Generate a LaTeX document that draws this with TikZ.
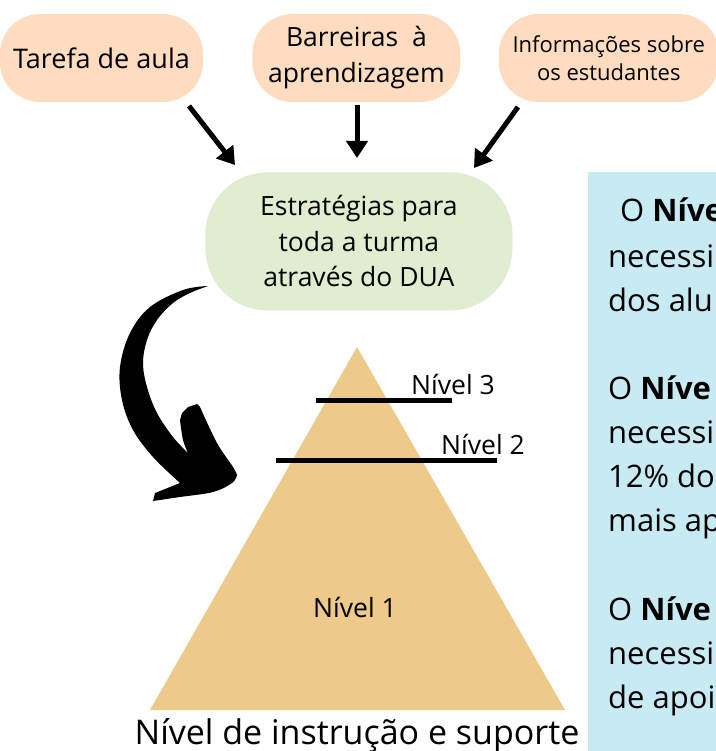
\documentclass[tikz,border=0pt]{standalone}
\usepackage{fontspec}
\setmainfont{Open Sans}
\usetikzlibrary{arrows.meta, positioning, calc}
\definecolor{pessego}{HTML}{FDDCBF}
\definecolor{verdeclaro}{HTML}{E0EDD0}
\definecolor{azulclaro}{HTML}{C8EAF2}
\definecolor{areia}{HTML}{EDCA8A}
\tikzset{
  dua/.style={
	x=1pt, y=-1pt, % one unit is one pixel of the page, y grows downwards
	every node/.style={inner sep=0pt, align=center},
	caixa/.style={fill=pessego, rounded corners=40pt, minimum height=88pt}, % the three sources
	estrategia/.style={fill=verdeclaro, rounded corners=62pt, minimum width=307pt, minimum height=138pt,
		font=\fontsize{26.5}{35.5}\selectfont},
	seta/.style={line width=5pt, -{Triangle[length=17pt, width=21pt]}}, % the straight arrows
	nivel/.style={line width=5pt}, % the lines across the pyramid
	rotulo/.style={font=\fontsize{26.5}{30}\selectfont},
	painel/.style={anchor=base west, align=left, font=\fontsize{31}{45}\selectfont},
  }
}
\begin{document}
\begin{tikzpicture}[dua]
\useasboundingbox (0,0) rectangle (715,751);

\node[caixa, minimum width=203pt, font=\fontsize{27}{36}\selectfont] (tarefa) at (101.5,58) {Tarefa de aula};
\node[caixa, minimum width=208pt, font=\fontsize{26.5}{36}\selectfont, right=49pt of tarefa] (barreiras) {Barreiras \ à\\aprendizagem};
\node[caixa, minimum width=220pt, font=\fontsize{22}{28}\selectfont, right=38pt of barreiras] (informacoes) {Informações sobre\\os estudantes};
\node[estrategia, below=70pt of barreiras, xshift=2.5pt] (estrategias) {Estratégias para\\toda a turma\\através do DUA};

\coordinate (s1) at (189,106);
\coordinate (e1) at (235,165);
\coordinate (s2) at (357,105);
\coordinate (e2) at (357,158);
\coordinate (s3) at (518,107);
\coordinate (e3) at (474,168);
\draw[seta] (s1) -- (e1);
\draw[seta] (s2) -- (e2);
\draw[seta] (s3) -- (e3);

% curved arrow down to the pyramid
\fill plot[smooth, tension=0.6] coordinates {(208,286) (183,290) (150,307) (130,333) (120,367) (122,400) (133,430) (153,457) (180,483)}
	-- (155,493) -- (153,501)
	-- plot[smooth, tension=0.6] coordinates {(153,501) (180,497) (213,492) (232,483) (237,475)}
	-- plot[smooth, tension=0.6] coordinates {(237,475) (233,467) (217,443) (200,407)}
	-- (197,404) -- (188,407) -- (182,413) -- (180,420)
	-- plot[smooth, tension=0.6] coordinates {(180,420) (183,440) (188,453)}
	-- plot[smooth, tension=0.6] coordinates {(188,453) (173,437) (157,413) (147,387) (143,363) (147,340) (157,320) (173,303) (190,293) (208,286)}
	-- cycle;

% pyramid
\coordinate (topo) at (357,347);
\coordinate (baseesq) at (150,710);
\coordinate (basedir) at (565,710);
\fill[areia] (topo) -- (baseesq) -- (basedir) -- cycle;
\draw[nivel] (316,400) -- (452,400);
\draw[nivel] (276,460) -- (497,460);
\node[rotulo, anchor=base west] (n3) at (411,394) {Nível 3};
\node[rotulo, anchor=base west] (n2) at (441,454) {Nível 2};
\node[rotulo, anchor=base] (n1) at (355,617) {Nível 1};
\node[font=\fontsize{34}{40}\selectfont, anchor=base] (legenda) at (357,744) {Nível de instrução e suporte};

% panel on the right
\fill[azulclaro] (588,172) rectangle (720,755);
\begin{scope}
\clip (588,172) rectangle (715,751);
\node[painel] (p3a) at (620,222) {O \textbf{Níve}};
\node[painel] (p3b) at (608,267) {necessi};
\node[painel] (p3c) at (608,311) {dos alu};
\node[painel] (p2a) at (608,399) {O \textbf{Níve}};
\node[painel] (p2b) at (608,443) {necessi};
\node[painel] (p2c) at (608,487) {12\% do};
\node[painel] (p2d) at (608,531) {mais ap};
\node[painel] (p1a) at (608,620) {O \textbf{Níve}};
\node[painel] (p1b) at (608,664) {necessi};
\node[painel] (p1c) at (608,708) {de apoi};
\end{scope}
\end{tikzpicture}
\end{document}
